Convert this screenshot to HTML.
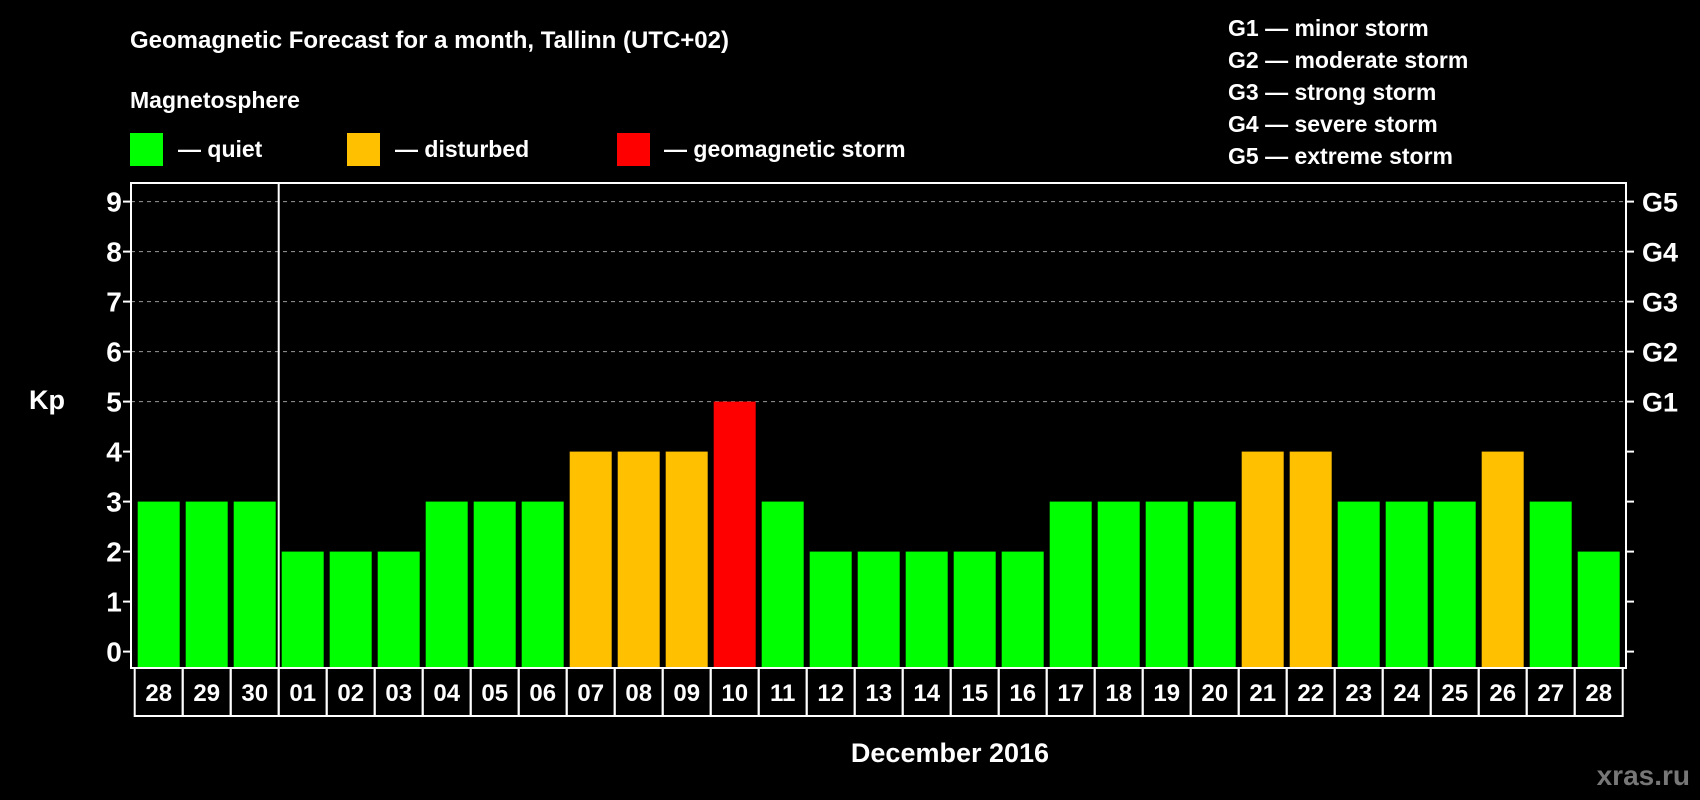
<!DOCTYPE html>
<html><head><meta charset="utf-8"><style>
body{margin:0;background:#000;width:1700px;height:800px;overflow:hidden}
svg{display:block;font-family:"Liberation Sans",Arial,sans-serif;font-weight:bold}
</style></head><body>
<svg id="c" width="1700" height="800">
<text x="130" y="48" fill="#fff" font-size="24">Geomagnetic Forecast for a month, Tallinn (UTC+02)</text>
<text x="130" y="108" fill="#fff" font-size="23">Magnetosphere</text>
<rect x="130" y="133" width="33" height="33" fill="#00ff00"/>
<text x="178" y="157" fill="#fff" font-size="23">— quiet</text>
<rect x="347" y="133" width="33" height="33" fill="#ffc000"/>
<text x="395" y="157" fill="#fff" font-size="23">— disturbed</text>
<rect x="617" y="133" width="33" height="33" fill="#ff0000"/>
<text x="664" y="157" fill="#fff" font-size="23">— geomagnetic storm</text>
<g fill="#fff" font-size="23">
<text x="1228" y="36">G1 — minor storm</text>
<text x="1228" y="68">G2 — moderate storm</text>
<text x="1228" y="100">G3 — strong storm</text>
<text x="1228" y="132">G4 — severe storm</text>
<text x="1228" y="164">G5 — extreme storm</text>
</g>
<text x="47" y="409" fill="#fff" font-size="27" text-anchor="middle">Kp</text>
<text x="950" y="762" fill="#fff" font-size="27" text-anchor="middle">December 2016</text>
<text x="1690" y="785" fill="#777" font-size="28" text-anchor="end">xras.ru</text>
<g id="plot"></g>
</svg>
<script>
const days=["28","29","30","01","02","03","04","05","06","07","08","09","10","11","12","13","14","15","16","17","18","19","20","21","22","23","24","25","26","27","28"];
const kp=[3,3,3,2,2,2,3,3,3,4,4,4,5,3,2,2,2,2,2,3,3,3,3,4,4,3,3,3,4,3,2];
const yTicks=[0,1,2,3,4,5,6,7,8,9];
const gLabels=["G1","G2","G3","G4","G5"];
const gLevels=[5,6,7,8,9];
const NS="http://www.w3.org/2000/svg";
const g=document.getElementById('plot');
const L=131,R=1626,T=183,B=668,X0=134.7,SW=48;
const y=v=>651.6-50*v;
const x=i=>X0+i*SW;
function mk(t,a){const e=document.createElementNS(NS,t);for(const k in a)e.setAttribute(k,a[k]);g.appendChild(e);return e;}
gLevels.forEach(v=>{
 const l=mk('line',{x1:L,x2:R,y1:y(v),y2:y(v),stroke:'#999','stroke-dasharray':'4,4','stroke-width':1});
 
 
});
kp.forEach((v,i)=>{
 const c=v>=5?'#ff0000':v>=4?'#ffc000':'#00ff00';
 const r=mk('rect',{x:x(i)+3,y:y(v),width:SW-6,height:B-y(v)-1,fill:c});
 
 
 const bx=mk('rect',{x:x(i),y:B,width:SW,height:48,fill:'none',stroke:'#fff','stroke-width':2});
 
 
 const t=mk('text',{x:x(i)+SW/2,y:B+33,fill:'#fff','font-size':24,'text-anchor':'middle'});
 t.textContent=days[i];
 
 
});
yTicks.forEach(v=>{
 const a=mk('line',{x1:L-8,x2:L,y1:y(v),y2:y(v),stroke:'#fff','stroke-width':2});
 
 
 const b=mk('line',{x1:R,x2:R+8,y1:y(v),y2:y(v),stroke:'#fff','stroke-width':2});
 
 
 const t=mk('text',{x:114,y:y(v)+10,fill:'#fff','font-size':28,'text-anchor':'middle'});
 t.textContent=v;
 
 
});
gLabels.forEach((s,i)=>{
 const t=mk('text',{x:1642,y:y(gLevels[i])+10,fill:'#fff','font-size':27});
 t.textContent=s;
 
 
});
const f=mk('rect',{x:L,y:T,width:R-L,height:B-T,fill:'none',stroke:'#fff','stroke-width':2});


const s=mk('line',{x1:x(3),x2:x(3),y1:T,y2:B,stroke:'#fff','stroke-width':2});


</script>
</body></html>
